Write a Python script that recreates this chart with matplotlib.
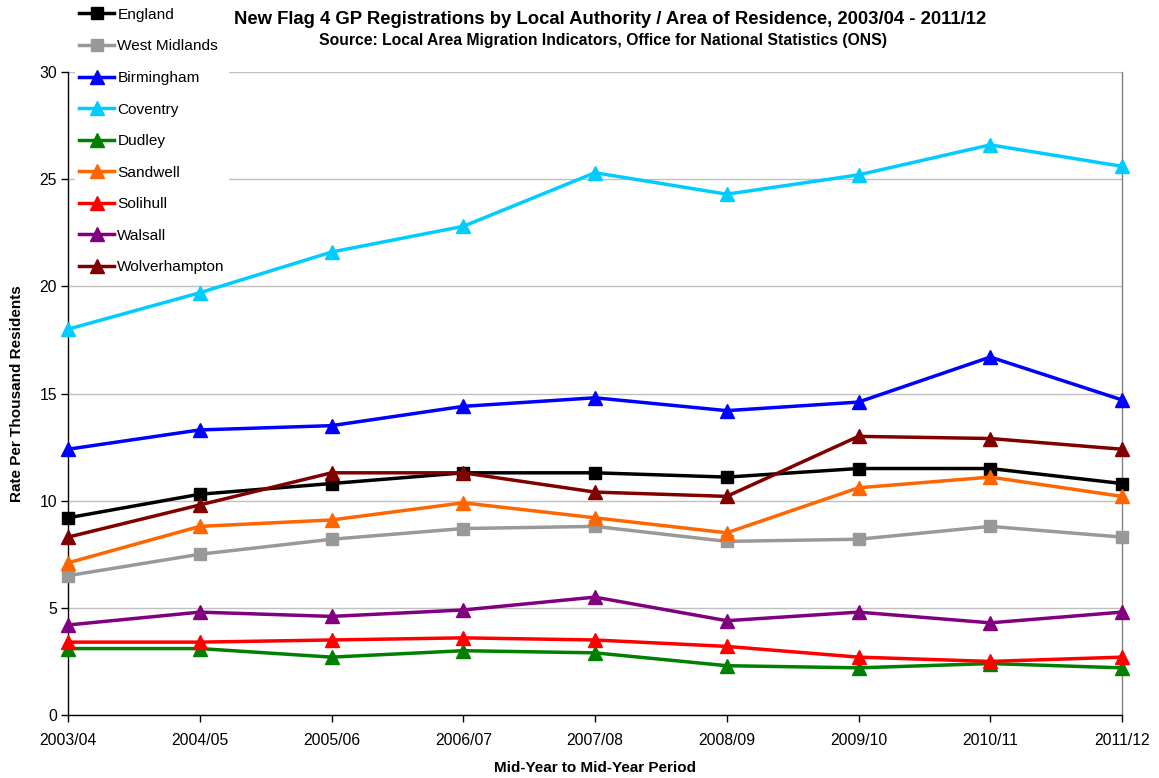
import matplotlib
matplotlib.use("Agg")
import matplotlib.pyplot as plt

plt.rcParams['font.family'] = ['Liberation Sans', 'DejaVu Sans']

periods = ["2003/04", "2004/05", "2005/06", "2006/07", "2007/08",
           "2008/09", "2009/10", "2010/11", "2011/12"]

england = [9.2, 10.3, 10.8, 11.3, 11.3, 11.1, 11.5, 11.5, 10.8]
west_midlands = [6.5, 7.5, 8.2, 8.7, 8.8, 8.1, 8.2, 8.8, 8.3]
birmingham = [12.4, 13.3, 13.5, 14.4, 14.8, 14.2, 14.6, 16.7, 14.7]
coventry = [18.0, 19.7, 21.6, 22.8, 25.3, 24.3, 25.2, 26.6, 25.6]
dudley = [3.1, 3.1, 2.7, 3.0, 2.9, 2.3, 2.2, 2.4, 2.2]
sandwell = [7.1, 8.8, 9.1, 9.9, 9.2, 8.5, 10.6, 11.1, 10.2]
solihull = [3.4, 3.4, 3.5, 3.6, 3.5, 3.2, 2.7, 2.5, 2.7]
walsall = [4.2, 4.8, 4.6, 4.9, 5.5, 4.4, 4.8, 4.3, 4.8]
wolverhampton = [8.3, 9.8, 11.3, 11.3, 10.4, 10.2, 13.0, 12.9, 12.4]

series = [
    ("England", england, "#000000", "s"),
    ("West Midlands", west_midlands, "#999999", "s"),
    ("Birmingham", birmingham, "#0000FF", "^"),
    ("Coventry", coventry, "#00CCFF", "^"),
    ("Dudley", dudley, "#008000", "^"),
    ("Sandwell", sandwell, "#FF6600", "^"),
    ("Solihull", solihull, "#FF0000", "^"),
    ("Walsall", walsall, "#800080", "^"),
    ("Wolverhampton", wolverhampton, "#800000", "^"),
]

W, H = 1159, 778
fig = plt.figure(figsize=(W / 100, H / 100), dpi=100)
ax = fig.add_axes([68 / W, (H - 715) / H, (1122 - 68) / W, (715 - 72) / H])

x = list(range(len(periods)))
for name, vals, color, mk in series:
    ax.plot(x, vals, color=color, marker=mk, markersize=9.5 if mk == "^" else 9,
            linewidth=2.5, label=name, clip_on=False, zorder=3)

ax.set_xlim(0, len(periods) - 1)
ax.set_ylim(0, 30)
ax.set_yticks([0, 5, 10, 15, 20, 25, 30])
ax.set_xticks(x)
ax.set_xticklabels(periods, fontsize=11.3)
ax.tick_params(axis='y', labelsize=11.3, length=5, width=1, direction='out', pad=3)
ax.tick_params(axis='x', length=5, width=1, direction='out', pad=8)
ax.yaxis.grid(True, color='#c0c0c0', linewidth=1)
ax.set_axisbelow(True)
for s in ['left', 'bottom']:
    ax.spines[s].set_color('black')
    ax.spines[s].set_linewidth(1)
ax.spines['right'].set_color('#808080')
ax.spines['right'].set_linewidth(1)
ax.spines['top'].set_visible(False)

fig.text(17 / W, (H - 394) / H, "Rate Per Thousand Residents", rotation=90,
         ha='center', va='center', fontsize=11, fontweight='bold')
fig.text(595 / W, 1 - 768 / H, "Mid-Year to Mid-Year Period",
         ha='center', va='center', fontsize=11, fontweight='bold')

fig.text(610 / W, 1 - 19 / H, "New Flag 4 GP Registrations by Local Authority / Area of Residence, 2003/04 - 2011/12",
         ha='center', va='center', fontsize=13.3, fontweight='bold')
fig.text(603 / W, 1 - 40 / H, "Source: Local Area Migration Indicators, Office for National Statistics (ONS)",
         ha='center', va='center', fontsize=11.3, fontweight='bold')

leg = fig.legend(loc='upper left', bbox_to_anchor=(75 / W, 1 - 4 / H),
                 fontsize=11.1, frameon=True, facecolor='white', edgecolor='none',
                 framealpha=1, fancybox=False, borderpad=0.25, labelspacing=1.14,
                 handlelength=2.3, handletextpad=0.2, borderaxespad=0)
leg.set_zorder(10)

fig.savefig("out.png", dpi=100)
